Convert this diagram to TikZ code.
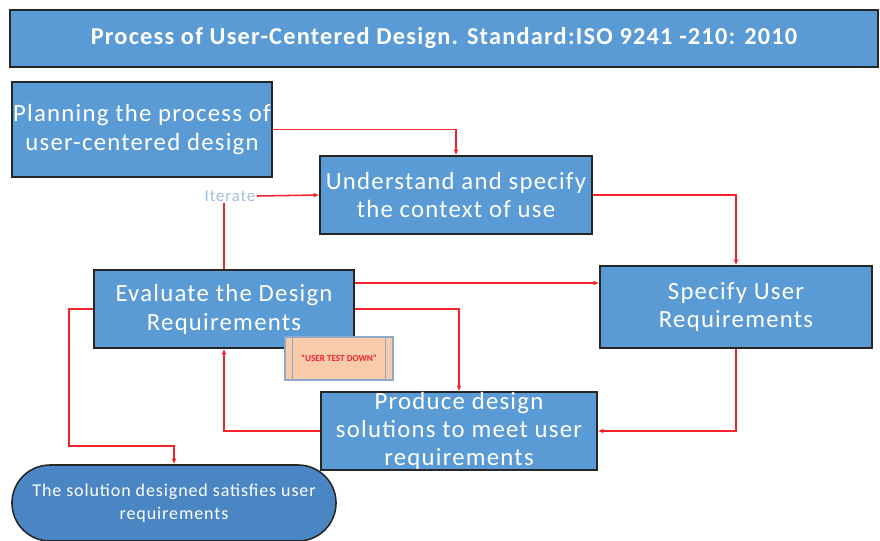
\documentclass[tikz,border=0pt]{standalone}
\usepackage{fontspec}
\setmainfont{Carlito}
\newfontfamily\spaced[LetterSpace=5]{Carlito}
\usetikzlibrary{positioning}
\usetikzlibrary{arrows.meta}

\definecolor{boxblue}{HTML}{5B9BD5}
\definecolor{goalblue}{HTML}{4A86C4}
\definecolor{edgegray}{HTML}{262626}
\definecolor{flowred}{HTML}{F2232B}
\definecolor{tagfill}{HTML}{F8CBAD}
\definecolor{tagedge}{HTML}{8EA9C8}
\definecolor{iterblue}{HTML}{A3BFE0}

\tikzset{
  stepbox/.style={draw=edgegray, line width=1.1pt, fill=boxblue, text=white,
    align=center, font=\spaced\fontsize{17.6}{20.5}\selectfont, inner sep=1pt},
  flow/.style={draw=flowred, line width=1.1pt, -{Latex[length=4pt,width=3.5pt]}},
  plainflow/.style={draw=flowred, line width=1.1pt}
}

\begin{document}
\begin{tikzpicture}[x=0.025cm,y=-0.025cm]
\useasboundingbox (0,0) rectangle (880,540);

% header
\node[stepbox, minimum width=21.7cm, minimum height=1.425cm,
  font=\spaced\fontsize{17.3}{19}\selectfont\bfseries] (title) at (444,38.5)
  {Process of User-Centered Design. Standard:ISO 9241 -210: 2010};

% process steps
\node[stepbox, minimum width=6.5cm, minimum height=2.375cm] (plan) at (142,129.5)
  {Planning the process of\\user-centered design};
\node[stepbox, minimum width=6.8cm, minimum height=1.95cm] (ctx) at (456,195)
  {Understand and specify\\the context of use};
\node[stepbox, minimum width=6.5cm, minimum height=1.95cm] (eval) at (224,309)
  {Evaluate the Design\\Requirements};
\node[stepbox, minimum width=6.8cm, minimum height=2.05cm] (spec) at (736,307)
  {Specify User\\Requirements};
\node[stepbox, minimum width=6.9cm, minimum height=1.95cm, inner sep=0pt,
  font=\spaced\fontsize{17.6}{20}\selectfont] (prod) at (459,431)
  {Produce design\\solutions to meet user\\requirements};

% end state
\node[stepbox, fill=goalblue, rounded corners=0.95cm, minimum width=8.1cm,
  minimum height=1.9cm, font=\spaced\fontsize{12.8}{16}\selectfont] (goal) at (174,503)
  {The solution designed satisfies user\\requirements};

% user test tag
\node[draw=tagedge, line width=0.8pt, fill=tagfill, minimum width=2.7cm,
  minimum height=1.075cm, text=flowred, font=\fontsize{6.5}{7}\bfseries] (tag) at (339,358.5)
  {``USER TEST DOWN''};
\draw[tagedge, line width=0.8pt] ([xshift=0.2cm]tag.north west) -- ([xshift=0.2cm]tag.south west);
\draw[tagedge, line width=0.8pt] ([xshift=-0.2cm]tag.north east) -- ([xshift=-0.2cm]tag.south east);

\node[text=iterblue, font=\spaced\fontsize{12}{13}\selectfont, inner sep=1pt] (iter) at (230,196) {Iterate};

% connectors
\coordinate (e1) at ([yshift=0.65cm]eval.east);
\draw[flow] (plan.east) -| (ctx.north);
\draw[flow] (iter.east) -- (ctx.west);
\draw[plainflow] (eval.north) -- (eval.north |- iter.south);
\draw[flow] (ctx.east) -| (spec.north);
\draw[flow] (e1) -- (e1 -| spec.west);
\draw[flow] (eval.east) -| (prod.north);
\draw[flow] (spec.south) |- (prod.east);
\draw[flow] (prod.west) -| (eval.south);
\draw[flow] (eval.west) -- ++(-24,0) |- ([yshift=0.45cm]goal.north) -- (goal.north);

\end{tikzpicture}
\end{document}
